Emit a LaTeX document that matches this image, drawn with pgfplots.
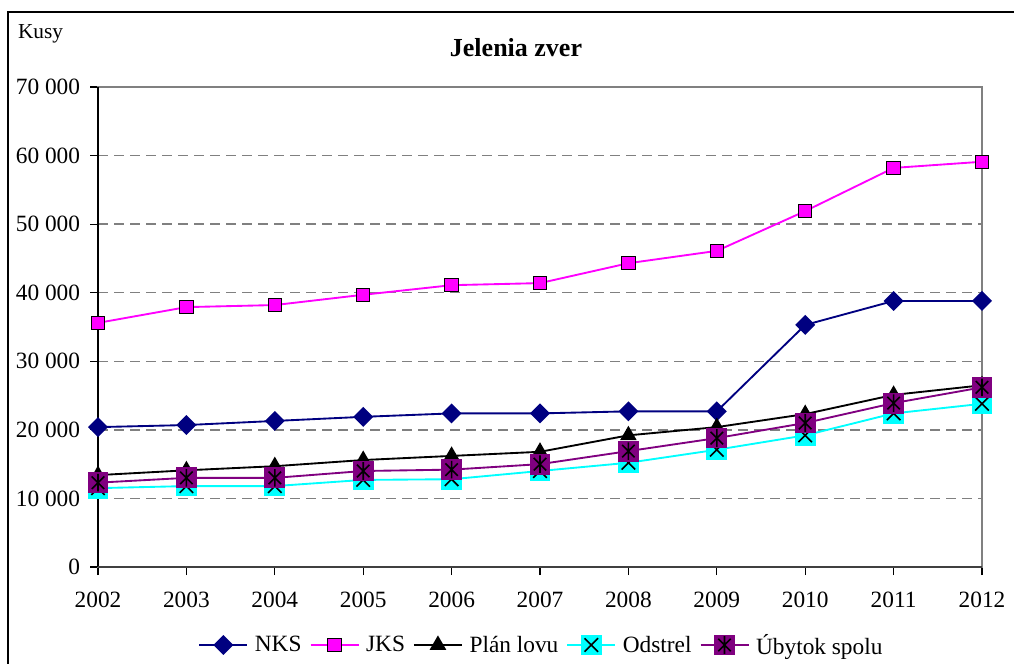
\documentclass[border=0pt]{standalone}
\usepackage{fontspec}
\setmainfont{Liberation Serif}
\usepackage{pgfplots}
\pgfplotsset{compat=1.18}
\definecolor{navyc}{RGB}{0,0,128}
\definecolor{magc}{RGB}{255,0,255}
\definecolor{cyanc}{RGB}{0,255,255}
\definecolor{purc}{RGB}{128,0,128}
\definecolor{gridc}{RGB}{128,128,128}
\pgfdeclareplotmark{sqx}{%
  \pgfpathrectangle{\pgfqpoint{-\pgfplotmarksize}{-\pgfplotmarksize}}{\pgfqpoint{2\pgfplotmarksize}{2\pgfplotmarksize}}%
  \pgfusepathqfill
  \pgfpathmoveto{\pgfqpoint{-.65\pgfplotmarksize}{-.65\pgfplotmarksize}}%
  \pgfpathlineto{\pgfqpoint{.65\pgfplotmarksize}{.65\pgfplotmarksize}}%
  \pgfpathmoveto{\pgfqpoint{-.65\pgfplotmarksize}{.65\pgfplotmarksize}}%
  \pgfpathlineto{\pgfqpoint{.65\pgfplotmarksize}{-.65\pgfplotmarksize}}%
  \pgfusepathqstroke
}
\pgfdeclareplotmark{sqast}{%
  \pgfpathrectangle{\pgfqpoint{-\pgfplotmarksize}{-\pgfplotmarksize}}{\pgfqpoint{2\pgfplotmarksize}{2\pgfplotmarksize}}%
  \pgfusepathqfill
  \pgfpathmoveto{\pgfqpoint{0pt}{-.85\pgfplotmarksize}}%
  \pgfpathlineto{\pgfqpoint{0pt}{.85\pgfplotmarksize}}%
  \pgfpathmoveto{\pgfqpoint{-.6\pgfplotmarksize}{-.6\pgfplotmarksize}}%
  \pgfpathlineto{\pgfqpoint{.6\pgfplotmarksize}{.6\pgfplotmarksize}}%
  \pgfpathmoveto{\pgfqpoint{-.6\pgfplotmarksize}{.6\pgfplotmarksize}}%
  \pgfpathlineto{\pgfqpoint{.6\pgfplotmarksize}{-.6\pgfplotmarksize}}%
  \pgfusepathqstroke
}
\begin{document}
\begin{tikzpicture}
\useasboundingbox (0,0) rectangle (760.5pt,498pt);
\draw[line width=1.6pt] (6pt,0) -- (6pt,489pt) -- (761pt,489pt);
\node[anchor=west,font=\fontsize{16}{19}\selectfont] at (10pt,473pt) {Kusy};
\node[font=\fontsize{19.5}{22}\selectfont\bfseries] at (387pt,462.5pt) {Jelenia zver};
\begin{axis}[
  scale only axis,
  width=663pt, height=360pt,
  at={(73.5pt,72.75pt)}, anchor=south west,
  xmin=2002, xmax=2012, ymin=0, ymax=70000,
  xtick={2002,2003,...,2012},
  ytick={0,10000,...,70000},
  x tick label style={/pgf/number format/1000 sep={}},
  y tick label style={/pgf/number format/1000 sep={\ }},
  /pgf/number format/assume math mode=true,
  scaled y ticks=false,
  tick label style={font=\fontsize{17.5}{20}\selectfont},
  xticklabel style={yshift=-9pt},
  yticklabel style={xshift=-4pt},
  tick align=outside,
  major tick length=6pt,
  tick style={black, line width=0.8pt},
  xtick pos=bottom, ytick pos=left,
  ymajorgrids,
  grid style={gridc, dash pattern=on 7.5pt off 4.5pt, line width=1.1pt},
  axis line style={gridc, line width=1.2pt},
  clip=false,
  legend columns=5,
  legend style={at={(0.502,-0.1625)}, anchor=center, draw=none, fill=none,
    font=\fontsize{17.5}{20}\selectfont, column sep=3pt,
    /tikz/every even column/.append style={column sep=4pt}},
  legend image code/.code={\draw[mark repeat=2,mark phase=2,#1] plot coordinates {(0pt,0pt) (18pt,0pt) (36pt,0pt)};},
]
\draw[black, line width=1.2pt] (rel axis cs:0,0) -- (rel axis cs:0,1);
\draw[black!75, line width=1.4pt] (rel axis cs:0,0) -- (rel axis cs:1,0);
\addplot[navyc, line width=1.4pt, mark=square*, mark size=4.6pt, mark options={rotate=45, solid, fill=navyc, draw=navyc}] coordinates {
(2002,20400) (2003,20700) (2004,21300) (2005,21900) (2006,22400) (2007,22400) (2008,22700) (2009,22700) (2010,35300) (2011,38800) (2012,38800)};
\addlegendentry{NKS}
\addplot[magc, line width=1.4pt, mark=square*, mark size=5pt, mark options={solid, fill=magc, draw=black, line width=0.8pt}] coordinates {
(2002,35600) (2003,37900) (2004,38200) (2005,39700) (2006,41100) (2007,41400) (2008,44300) (2009,46100) (2010,51900) (2011,58200) (2012,59100)};
\addlegendentry{JKS}
\addplot[black, line width=1.4pt, mark=triangle*, mark size=5.8pt, mark options={solid, fill=black}] coordinates {
(2002,13400) (2003,14100) (2004,14700) (2005,15600) (2006,16200) (2007,16800) (2008,19200) (2009,20400) (2010,22300) (2011,25100) (2012,26500)};
\addlegendentry{Plán lovu}
\addplot[cyanc, line width=1.4pt, mark=sqx, mark size=7.8pt, mark options={solid, fill=cyanc, draw=black, line width=1.2pt}] coordinates {
(2002,11500) (2003,11800) (2004,11800) (2005,12700) (2006,12800) (2007,14000) (2008,15200) (2009,17100) (2010,19200) (2011,22400) (2012,23800)};
\addlegendentry{Odstrel}
\addplot[purc, line width=1.4pt, mark=sqast, mark size=7.8pt, mark options={solid, fill=purc, draw=black, line width=1.2pt}] coordinates {
(2002,12300) (2003,13000) (2004,13000) (2005,14000) (2006,14200) (2007,15000) (2008,16900) (2009,18800) (2010,21000) (2011,23900) (2012,26200)};
\addlegendentry{Úbytok spolu}
\end{axis}
\end{tikzpicture}
\end{document}
